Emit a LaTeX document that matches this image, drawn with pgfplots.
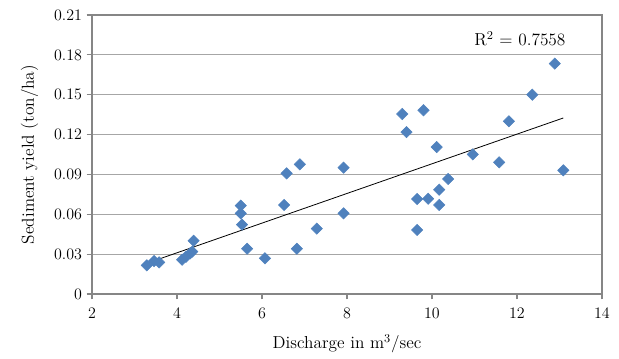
\documentclass[border=0pt]{standalone}
\usepackage{pgfplots}
\pgfplotsset{compat=1.18}
\definecolor{mblue}{HTML}{4F81BD}
\definecolor{gridg}{HTML}{A6A6A6}
\definecolor{axg}{HTML}{868686}
\begin{document}
\begin{tikzpicture}
\path[use as bounding box] (-69pt,-48pt) rectangle (395.25pt,220.5pt);
\begin{axis}[
  scale only axis,
  width=382.5pt, height=209.25pt,
  xmin=2, xmax=14, ymin=0, ymax=0.21,
  xtick={2,4,...,14},
  ytick={0,0.03,0.06,0.09,0.12,0.15,0.18,0.21},
  yticklabels={0,0.03,0.06,0.09,0.12,0.15,0.18,0.21},
  ymajorgrids, major grid style={gridg, line width=0.8pt},
  axis line style={axg, line width=0.8pt},
  tick style={axg, line width=0.8pt},
  tick align=outside, major tick length=4pt,
  xtick pos=bottom, ytick pos=left,
  scaled y ticks=false,
  /pgf/number format/assume math mode=true,
  xlabel={Discharge in m$^3$/sec},
  ylabel={Sediment yield (ton/ha)},
  label style={font=\fontsize{13}{15}\selectfont},
  xlabel style={yshift=-5pt},
  ylabel style={yshift=5pt},
  tick label style={font=\fontsize{12}{14}\selectfont},
  xticklabel style={yshift=-3pt},
]
\addplot[only marks, mark=square*, mark size=3pt, mark options={rotate=45, fill=mblue, draw=mblue}] coordinates {
(3.29,0.0216) (3.46,0.0248) (3.58,0.0238) (4.12,0.0258) (4.21,0.0280)
(4.31,0.0306) (4.36,0.0319) (4.39,0.0401) (5.50,0.0665) (5.50,0.0607)
(5.53,0.0522) (5.65,0.0341) (6.07,0.0269) (6.52,0.0670) (6.58,0.0908)
(6.82,0.0341) (6.89,0.0976) (7.29,0.0492) (7.92,0.0951) (7.92,0.0607)
(9.30,0.1355) (9.40,0.1219) (9.80,0.1383) (10.11,0.1106) (9.65,0.0715)
(9.91,0.0717) (10.17,0.0785) (10.17,0.0670) (10.38,0.0866) (9.65,0.0482)
(10.96,0.1051) (11.58,0.0991) (11.81,0.1300) (12.36,0.1500) (12.89,0.1734)
(13.09,0.0931)
};
\addplot[black, line width=0.6pt] coordinates {(3.29,0.0231) (13.09,0.1325)};
\node[font=\fontsize{13}{15}\selectfont] at (axis cs:12.07,0.192) {R$^2$ = 0.7558};
\end{axis}
\end{tikzpicture}
\end{document}
